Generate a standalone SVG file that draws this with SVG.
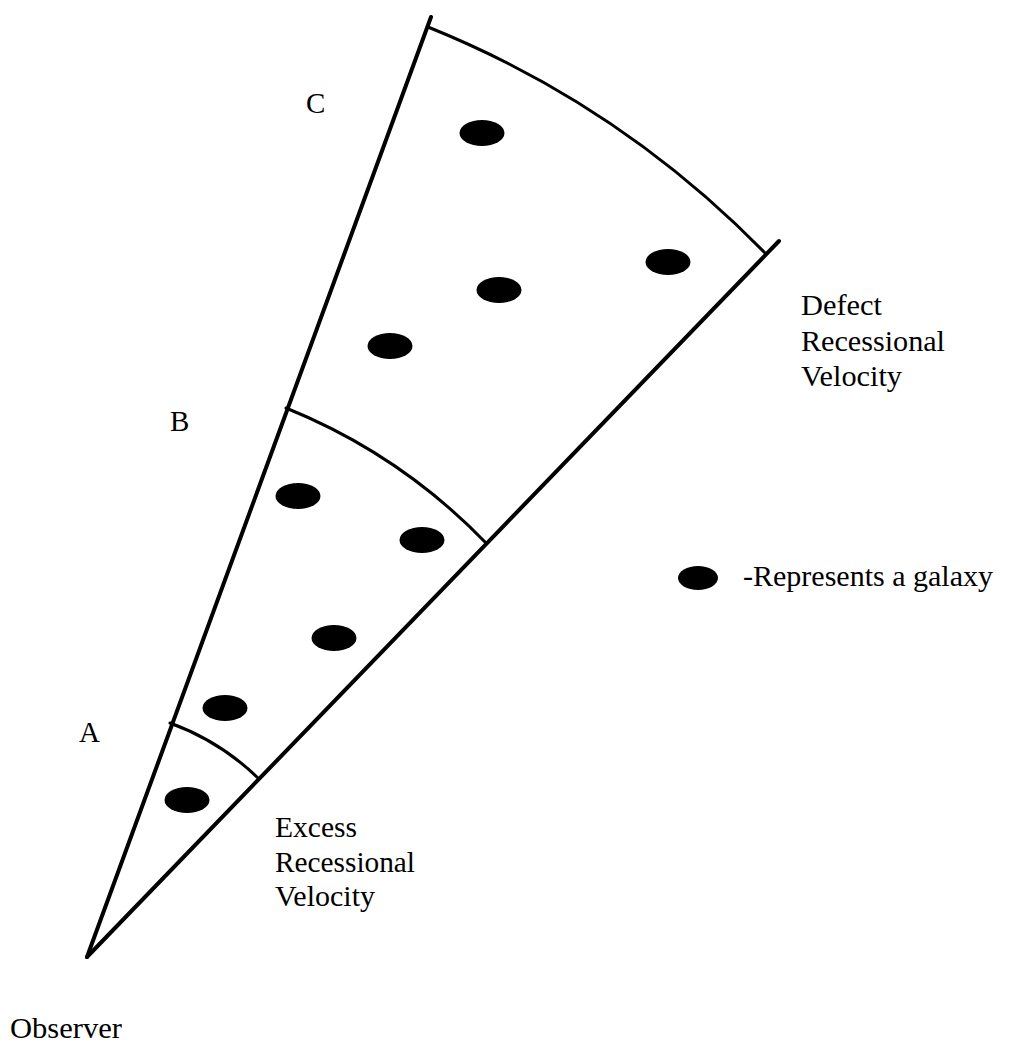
<svg xmlns="http://www.w3.org/2000/svg" width="1012" height="1052" viewBox="0 0 1012 1052">
<style>
.edge{fill:none;stroke:#000;stroke-width:4;stroke-linecap:round}
.arc{fill:none;stroke:#000;stroke-width:3;stroke-linecap:round}
.gal{fill:#000}
.t{font-family:"Liberation Serif","Times New Roman",serif;font-size:29px;fill:#000}
</style>
<rect width="1012" height="1052" fill="#fff"/>
<g id="connectors">
<line class="edge" x1="87" y1="957" x2="431" y2="17"/>
<line class="edge" x1="87" y1="957" x2="779" y2="241"/>
<path class="arc" d="M428,27 A985,985 0 0 1 765,253"/>
<path class="arc" d="M286,408 A580,580 0 0 1 486,543"/>
<path class="arc" d="M170,723 A248,248 0 0 1 258,778"/>
</g>
<g id="galaxies">
<ellipse id="g1" class="gal" cx="482" cy="133" rx="22.5" ry="13"/>
<ellipse id="g2" class="gal" cx="668" cy="262" rx="22.5" ry="13"/>
<ellipse id="g3" class="gal" cx="499" cy="290" rx="22.5" ry="13"/>
<ellipse id="g4" class="gal" cx="390" cy="346" rx="22.5" ry="13"/>
<ellipse id="g5" class="gal" cx="298" cy="496" rx="22.5" ry="13"/>
<ellipse id="g6" class="gal" cx="422" cy="540" rx="22.5" ry="13"/>
<ellipse id="g7" class="gal" cx="334" cy="638" rx="22.5" ry="13"/>
<ellipse id="g8" class="gal" cx="225" cy="708" rx="22.5" ry="13"/>
<ellipse id="g9" class="gal" cx="187" cy="800" rx="22.5" ry="13"/>
</g>
<g id="label-C"><text class="t" x="306" y="113">C</text></g>
<g id="label-B"><text class="t" x="170" y="431">B</text></g>
<g id="label-A"><text class="t" x="79" y="742">A</text></g>
<g id="defect">
<text class="t" x="801" y="315" textLength="81" lengthAdjust="spacingAndGlyphs">Defect</text>
<text class="t" x="801" y="351" textLength="144" lengthAdjust="spacingAndGlyphs">Recessional</text>
<text class="t" x="801" y="386" textLength="101" lengthAdjust="spacingAndGlyphs">Velocity</text>
</g>
<g id="excess">
<text class="t" x="275" y="837" textLength="82" lengthAdjust="spacingAndGlyphs">Excess</text>
<text class="t" x="275" y="872" textLength="140" lengthAdjust="spacingAndGlyphs">Recessional</text>
<text class="t" x="275" y="906" textLength="100" lengthAdjust="spacingAndGlyphs">Velocity</text>
</g>
<g id="legend">
<ellipse class="gal" cx="698" cy="578" rx="20" ry="12"/>
<text class="t" x="743" y="586" textLength="250" lengthAdjust="spacingAndGlyphs">-Represents a galaxy</text>
</g>
<g id="observer"><text class="t" x="10" y="1038" textLength="112" lengthAdjust="spacingAndGlyphs">Observer</text></g>
</svg>
